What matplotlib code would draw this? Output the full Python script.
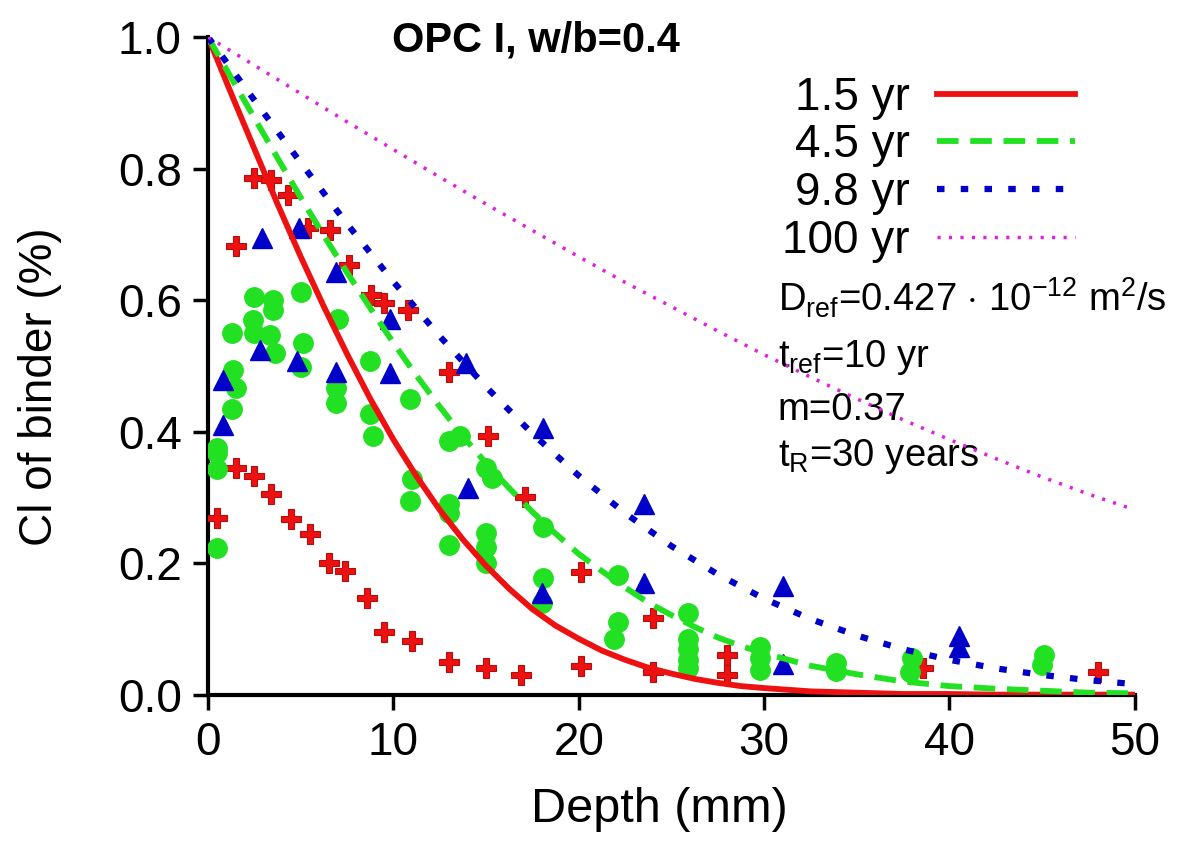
import matplotlib

matplotlib.use("Agg")
import matplotlib.pyplot as plt

# measured chloride profiles, Cl of binder (%) vs depth (mm)
red_depth = [0.5, 1.5, 1.5, 2.5, 3.4, 2.5, 3.4, 4.3, 4.5, 5.5, 5.4, 6.6, 6.5, 7.4,
             7.6, 8.6, 8.8, 9.5, 9.5, 11.0, 10.8, 13.0, 13.0, 15.0, 15.1, 16.9,
             17.1, 20.1, 20.1, 24.0, 24.0, 28.0, 28.0, 38.6, 48.0]
red_cl = [0.268, 0.682, 0.345, 0.786, 0.783, 0.333, 0.305, 0.76, 0.267, 0.244,
          0.71, 0.707, 0.20, 0.188, 0.653, 0.147, 0.608, 0.595, 0.096, 0.081,
          0.585, 0.049, 0.49, 0.041, 0.394, 0.030, 0.30, 0.043, 0.186, 0.116,
          0.035, 0.061, 0.03, 0.04, 0.035]

green_depth = [0.5, 0.5, 0.5, 0.5, 1.3, 1.35, 1.5, 1.3, 2.4, 2.5, 2.5, 3.5, 3.5,
               3.35, 3.6, 5.0, 5.1, 5.0, 7.0, 6.9, 6.9, 8.75, 8.75, 8.9, 10.9,
               11.0, 10.9, 13.0, 13.6, 13.0, 13.0, 13.0, 15.0, 15.3, 15.0, 15.0,
               15.0, 18.05, 18.05, 18.0, 22.1, 22.1, 21.9, 25.9, 25.9, 25.9, 25.9,
               25.9, 29.8, 29.8, 29.8, 33.9, 33.9, 38.0, 37.9, 45.1, 45.0]
green_cl = [0.375, 0.368, 0.343, 0.223, 0.55, 0.493, 0.467, 0.435, 0.57, 0.605,
            0.55, 0.60, 0.585, 0.547, 0.52, 0.612, 0.534, 0.498, 0.572, 0.467,
            0.444, 0.508, 0.427, 0.394, 0.45, 0.328, 0.295, 0.386, 0.394, 0.29,
            0.276, 0.228, 0.345, 0.33, 0.246, 0.225, 0.20, 0.255, 0.178, 0.14,
            0.182, 0.111, 0.084, 0.124, 0.085, 0.07, 0.052, 0.040, 0.072, 0.055,
            0.038, 0.048, 0.036, 0.055, 0.035, 0.061, 0.045]

blue_depth = [0.8, 0.8, 2.9, 2.8, 4.9, 4.8, 6.9, 6.9, 9.8, 9.8, 13.9, 14.0, 18.05,
              18.0, 23.5, 23.5, 31.0, 31.0, 40.5, 40.5]
blue_cl = [0.41, 0.478, 0.695, 0.524, 0.71, 0.508, 0.643, 0.49, 0.572, 0.489,
           0.505, 0.314, 0.406, 0.154, 0.29, 0.17, 0.165, 0.046, 0.089, 0.073]

# model curves
fine_depth = [0, 1.25, 2.5, 3.75, 5, 6.25, 7.5, 8.75, 10, 11.25, 12.5, 13.75, 15,
              16.25, 17.5, 18.75, 20, 21.25, 22.5, 23.75, 25, 26.25, 27.5, 28.75,
              30, 32.5, 35, 37.5, 40, 42.5, 45, 47.5, 50]
curve_15yr = [1.0, 0.914, 0.830, 0.746, 0.666, 0.590, 0.518, 0.450, 0.388, 0.332,
              0.281, 0.236, 0.196, 0.161, 0.130, 0.105, 0.085, 0.067, 0.053, 0.041,
              0.032, 0.024, 0.018, 0.013, 0.010, 0.005, 0.003, 0.001, 0.001, 0.0,
              0.0, 0.0, 0.0]
curve_45yr = [1.0, 0.938, 0.877, 0.816, 0.756, 0.698, 0.642, 0.588, 0.535, 0.485,
              0.438, 0.393, 0.352, 0.314, 0.278, 0.245, 0.214, 0.188, 0.163, 0.140,
              0.121, 0.103, 0.087, 0.074, 0.063, 0.044, 0.031, 0.020, 0.013, 0.009,
              0.006, 0.003, 0.002]
curve_depth = [0, 2.5, 5, 7.5, 10, 12.5, 15, 17.5, 20, 22.5, 25, 27.5, 30, 32.5,
               35, 37.5, 40, 42.5, 45, 47.5, 50]
curve_98yr = [1.0, 0.904, 0.809, 0.716, 0.628, 0.545, 0.468, 0.397, 0.333, 0.276,
              0.226, 0.183, 0.146, 0.115, 0.090, 0.069, 0.053, 0.040, 0.030,
              0.022, 0.016]
curve_100yr = [1.0, 0.957, 0.914, 0.871, 0.829, 0.787, 0.746, 0.706, 0.666, 0.627,
               0.590, 0.553, 0.517, 0.483, 0.450, 0.418, 0.388, 0.359, 0.331,
               0.305, 0.281]

legend_labels = ["1.5 yr", "4.5 yr", "9.8 yr", "100 yr"]
params = [r"D$_\mathrm{ref}$=0.427 $\cdot$ 10$^\mathrm{-12}$ m$^\mathrm{2}$/s",
          r"t$_\mathrm{ref}$=10 yr", "m=0.37", r"t$_\mathrm{R}$=30 years"]

RED = "#ee1111"
GREEN = "#22e022"
BLUE = "#0000c8"
MAGENTA = "#e020e0"

plt.rcParams["font.family"] = ["Liberation Sans", "DejaVu Sans"]
plt.rcParams["mathtext.fontset"] = "custom"
plt.rcParams["mathtext.rm"] = "Liberation Sans"
plt.rcParams["mathtext.it"] = "Liberation Sans:italic"

fig = plt.figure(figsize=(11.82, 8.42), dpi=100)
ax = fig.add_axes([0.176, 0.175, 0.784, 0.781])

ax.plot(red_depth, red_cl, "P", color=RED, mec="#b01010", mew=0.8, ms=15, ls="none", zorder=3)
ax.plot(green_depth, green_cl, "o", color=GREEN, mec=GREEN, ms=14, ls="none", zorder=3)
ax.plot(blue_depth, blue_cl, "^", color=BLUE, mec=BLUE, ms=14, ls="none", zorder=3)

l1, = ax.plot(fine_depth, curve_15yr, color=RED, lw=4.2, zorder=4)
l2, = ax.plot(fine_depth, curve_45yr, color=GREEN, lw=4.2, dashes=(3.7, 2.0), zorder=4)
l3, = ax.plot(curve_depth, curve_98yr, color=BLUE, lw=4.5, dashes=(1.2, 2.6), zorder=4)
l4, = ax.plot(curve_depth, curve_100yr, color=MAGENTA, lw=2.5, dashes=(0.9, 2.4), zorder=4)

ax.set_xlim(0, 50)
ax.set_ylim(0, 1.0)
ax.set_xticks([0, 10, 20, 30, 40, 50])
ax.set_yticks([0.0, 0.2, 0.4, 0.6, 0.8, 1.0])
ax.set_yticklabels(["0.0", "0.2", "0.4", "0.6", "0.8", "1.0"])
for side in ("top", "right"):
    ax.spines[side].set_visible(False)
for side in ("left", "bottom"):
    ax.spines[side].set_linewidth(3)
ax.tick_params(direction="out", length=11, width=2.5, labelsize=33, pad=8)
ax.set_xlabel("Depth (mm)", fontsize=35)
ax.set_ylabel("Cl of binder (%)", fontsize=33)
ax.xaxis.set_label_coords(0.487, -0.14)
ax.yaxis.set_label_coords(-0.158, 0.468)

fig.text(0.453, 0.952, "OPC I, w/b=0.4", fontsize=30, fontweight="bold",
         ha="center", va="center")

ax.legend([l1, l2, l3, l4], legend_labels, loc="upper right",
          bbox_to_anchor=(0.97, 0.99), frameon=False, markerfirst=False,
          fontsize=33, handlelength=3.0, handletextpad=0.6, labelspacing=0.08,
          borderpad=0.2)

for txt, yy in zip(params, [0.582, 0.498, 0.418, 0.347]):
    ax.text(0.615, yy, txt, transform=ax.transAxes, fontsize=27.5, va="baseline")

fig.savefig("out.png", dpi=100)
